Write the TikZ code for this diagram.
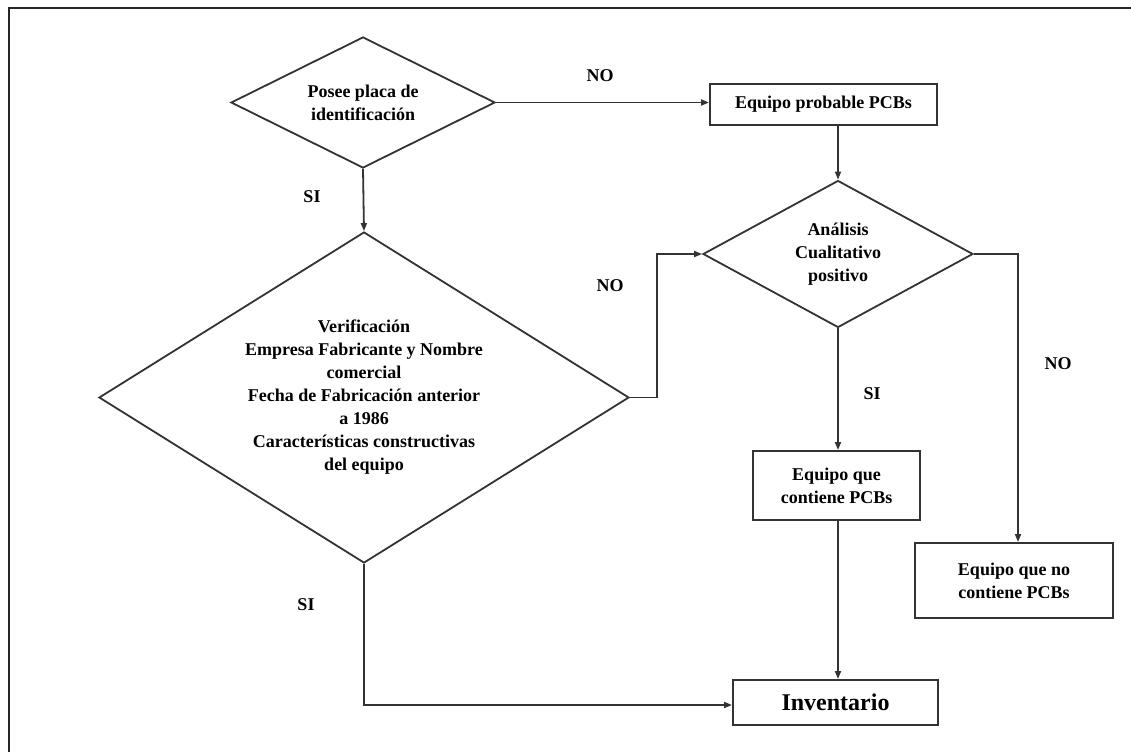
\documentclass[tikz,border=0pt]{standalone}
\usepackage{fontspec}
\setmainfont{Liberation Serif}
\usetikzlibrary{shapes.geometric,arrows.meta}
\begin{document}
\begin{tikzpicture}[x=1pt,y=-1pt,
  every node/.style={font=\fontsize{18}{23}\selectfont\bfseries, text=black},
  dec/.style={diamond, draw=black!80, line width=1.8pt, inner sep=0pt, align=center},
  boxn/.style={rectangle, draw=black!80, line width=2pt, inner sep=0pt, align=center},
  lbl/.style={inner sep=0pt},
  arr/.style={draw=black!80, line width=1.8pt, -{Triangle[length=8pt,width=6pt]}}]
\useasboundingbox (0,0) rectangle (1131,752);
\fill[white] (0,0) rectangle (1131,752);
\draw[black!85, line width=2pt] (9,752) -- (9,8) -- (1131,8);
% decisions
\node[dec, aspect=2.015, minimum width=264pt, minimum height=131pt] (d1) at (363,102.5) {Posee placa de\\identificación};
\node[dec, aspect=1.6, minimum width=530pt, minimum height=331pt] (d2) at (364,397.5) {Verificación\\Empresa Fabricante y Nombre\\comercial\\Fecha de Fabricación anterior\\a 1986\\Características constructivas\\del equipo};
\node[dec, aspect=1.84, minimum width=270pt, minimum height=147pt] (d3) at (838,254) {Análisis\\Cualitativo\\positivo};
% boxes
\node[boxn, minimum width=227pt, minimum height=41pt] (b1) at (823.5,104.5) {Equipo probable PCBs};
\node[boxn, minimum width=167pt, minimum height=69pt] (b2) at (836.5,485.5) {Equipo que\\contiene PCBs};
\node[boxn, minimum width=198pt, minimum height=75pt] (b3) at (1014,580.5) {Equipo que no\\contiene PCBs};
\node[boxn, minimum width=205pt, minimum height=45pt, font=\fontsize{24}{28}\selectfont\bfseries] (inv) at (835.5,702.5) {Inventario};
% labels
\node[lbl] (l1) at (600,76) {NO};
\node[lbl] (l2) at (312,197) {SI};
\node[lbl] (l3) at (610,286) {NO};
\node[lbl] (l4) at (872,394) {SI};
\node[lbl] (l5) at (1058,364) {NO};
\node[lbl] (l6) at (306,605) {SI};
% connectors
\draw[arr] (d1.east) -- (d1.east -| b1.west);
\draw[arr] (b1.south -| d3.north) -- (d3.north);
\draw[arr] (d1.south) -- (d2.north);
\draw[arr] (d2.east) -- ++(27,0) |- (d3.west);
\draw[arr] (d3.south) -- (d3.south |- b2.north);
\draw[arr] (d3.east) -| ([xshift=4pt]b3.north);
\draw[arr] (d3.south |- b2.south) -- (d3.south |- inv.north);
\draw[arr] (d2.south) |- ([yshift=-2.5pt]inv.west);
\end{tikzpicture}
\end{document}
